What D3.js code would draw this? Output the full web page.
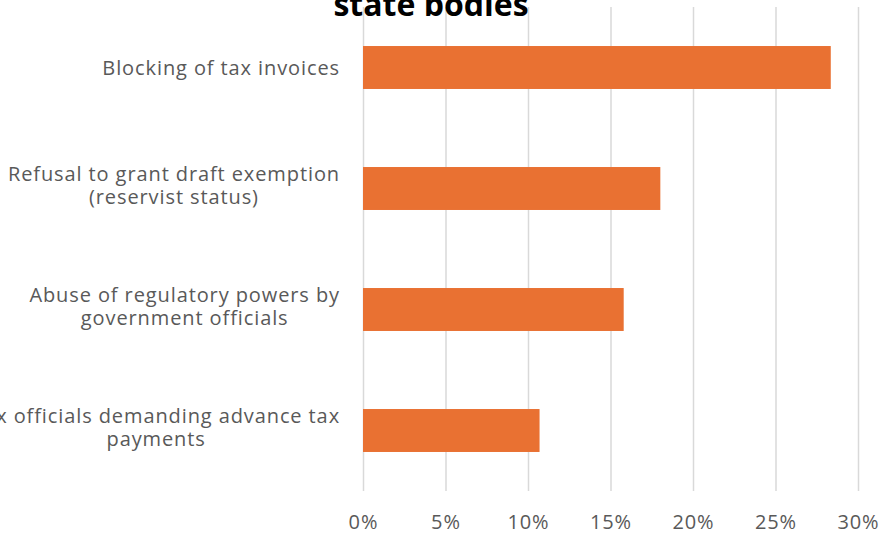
<!DOCTYPE html>
<html>
<head>
<meta charset="utf-8">
<script src="https://cdn.jsdelivr.net/npm/d3@7"></script>
<style>
  html, body { margin: 0; padding: 0; background: #fff; overflow: hidden; }
  svg { display: block; }
</style>
</head>
<body>
<svg id="chart" width="884" height="534"></svg>
<script>
// Categories, top to bottom; each label is split into its wrapped lines
const categories = [
  "Blocking of tax invoices",
  "Refusal to grant draft exemption (reservist status)",
  "Abuse of regulatory powers by government officials",
  "Tax officials demanding advance tax payments"
];
const categoryLines = [
  ["Blocking of tax invoices"],
  ["Refusal to grant draft exemption", "(reservist status)"],
  ["Abuse of regulatory powers by", "government officials"],
  ["Tax officials demanding advance tax", "payments"]
];
const shares = [0.2835, 0.1802, 0.1580, 0.1070];
const tickValues = [0, 0.05, 0.10, 0.15, 0.20, 0.25, 0.30];
const titleLines = ["state bodies"];

const svg = d3.select("#chart");
const font = "'Open Sans', 'Noto Sans', sans-serif";
const textGrey = "#595959";
const textSize = "20px";
const tracking = "0.9px";

const x = d3.scaleLinear().domain([0, 0.30]).range([363, 858]);
const y = d3.scaleBand().domain(categories).range([7, 491])
  .paddingInner(0.645).paddingOuter(0.3225);

// Vertical gridlines and percentage ticks
const xAxis = d3.axisBottom(x)
  .tickValues(tickValues)
  .tickFormat(d3.format(".0%"))
  .tickSize(-(491 - 7))
  .tickPadding(24);

const gx = svg.append("g")
  .attr("transform", "translate(0,491)")
  .call(xAxis);
gx.select(".domain").remove();
gx.selectAll(".tick line").attr("stroke", "#d9d9d9").attr("stroke-width", 1.5);
gx.selectAll(".tick text")
  .attr("fill", textGrey)
  .style("font-family", font)
  .style("font-size", textSize)
  .style("letter-spacing", tracking);

// Bars
svg.append("g").selectAll("rect")
  .data(shares)
  .join("rect")
  .attr("x", x(0))
  .attr("y", (d, i) => y(categories[i]))
  .attr("width", d => x(d) - x(0))
  .attr("height", y.bandwidth())
  .attr("fill", "#e97132");

// Category labels: right-aligned block, lines centred within the block
const lineH = 23;
const labelRight = 340;
const labels = svg.append("g")
  .style("font-family", font)
  .style("font-size", textSize)
  .style("letter-spacing", tracking)
  .attr("fill", textGrey);

categoryLines.forEach((lines, i) => {
  const cy = y(categories[i]) + y.bandwidth() / 2;
  const lift = lines.length > 1 ? 3.5 : 0;
  const t = labels.append("text").attr("text-anchor", "middle");
  lines.forEach((ln, j) => {
    t.append("tspan")
      .attr("x", 0)
      .attr("y", cy + (j - (lines.length - 1) / 2) * lineH + 7 - lift)
      .text(ln);
  });
  const w = t.node().getBBox().width;
  t.attr("transform", `translate(${labelRight - w / 2},0)`);
});

// Title
svg.append("g").selectAll("text")
  .data(titleLines)
  .join("text")
  .attr("x", 431)
  .attr("y", 16)
  .attr("text-anchor", "middle")
  .style("font-family", font)
  .style("font-size", "32px")
  .style("font-weight", "bold")
  .attr("fill", "#000")
  .text(d => d);
</script>
</body>
</html>
